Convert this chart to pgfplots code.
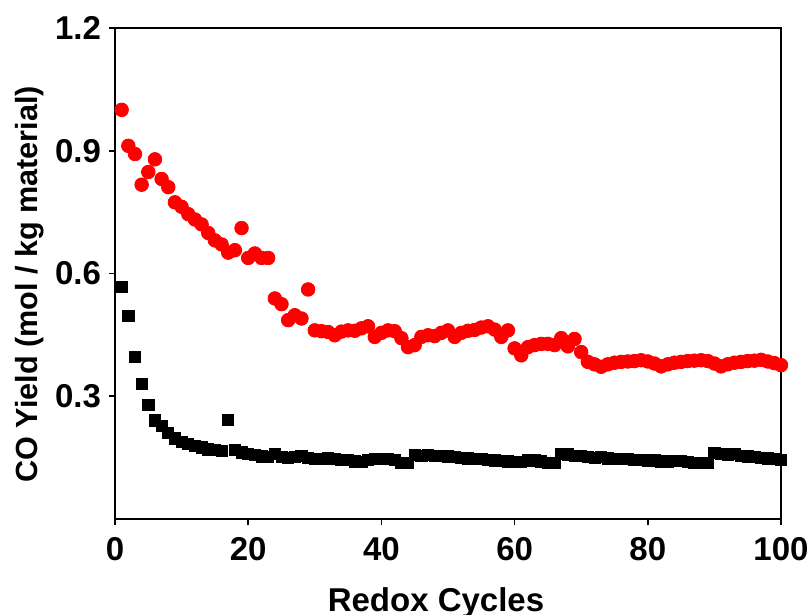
\documentclass[border=0pt]{standalone}
\usepackage{fontspec}
\setmainfont{Liberation Sans}
\usepackage{pgfplots}
\pgfplotsset{compat=1.18}
\begin{document}
\begin{tikzpicture}
\begin{axis}[
  scale only axis,
  width=333pt, height=245.5pt,
  xmin=0, xmax=100, ymin=0, ymax=1.2,
  xtick={0,20,40,60,80,100},
  ytick={0.3,0.6,0.9,1.2},
  yticklabels={0.3,0.6,0.9,1.2},
  xticklabels={0,20,40,60,80,100},
  tick align=outside,
  xtick pos=bottom, ytick pos=left,
  major tick length=3pt,
  axis line style={line width=0.8pt},
  every tick/.style={line width=0.8pt, black},
  ticklabel style={font=\fontsize{16.5}{18}\selectfont\bfseries},
  xticklabel style={yshift=-2.5pt},
  yticklabel style={xshift=-0.5pt},
  xlabel={Redox Cycles},
  ylabel={CO Yield (mol / kg material)},
  xlabel style={font=\fontsize{16.5}{18}\selectfont\bfseries, at={(axis description cs:0.482,-0.17)}, anchor=center},
  ylabel style={font=\fontsize{15.3}{17}\selectfont\bfseries, at={(axis description cs:-0.128,0.478)}, anchor=center},
  clip=false,
]
\addplot[only marks, mark=*, mark size=3.4pt, color=red, mark options={fill=red, draw=red}] coordinates {
(1,1.000)(2,0.912)(3,0.892)(4,0.817)(5,0.848)(6,0.879)(7,0.831)(8,0.811)(9,0.774)(10,0.763)
(11,0.745)(12,0.732)(13,0.720)(14,0.699)(15,0.681)(16,0.671)(17,0.651)(18,0.657)(19,0.711)(20,0.638)
(21,0.649)(22,0.638)(23,0.638)(24,0.539)(25,0.525)(26,0.486)(27,0.498)(28,0.490)(29,0.561)(30,0.461)
(31,0.459)(32,0.457)(33,0.449)(34,0.458)(35,0.461)(36,0.460)(37,0.466)(38,0.471)(39,0.445)(40,0.455)
(41,0.461)(42,0.459)(43,0.442)(44,0.420)(45,0.425)(46,0.445)(47,0.449)(48,0.447)(49,0.455)(50,0.461)
(51,0.445)(52,0.455)(53,0.460)(54,0.462)(55,0.468)(56,0.471)(57,0.463)(58,0.445)(59,0.461)(60,0.417)
(61,0.400)(62,0.420)(63,0.425)(64,0.428)(65,0.428)(66,0.425)(67,0.442)(68,0.422)(69,0.440)(70,0.408)
(71,0.384)(72,0.378)(73,0.372)(74,0.378)(75,0.382)(76,0.384)(77,0.385)(78,0.386)(79,0.388)(80,0.385)
(81,0.380)(82,0.373)(83,0.378)(84,0.382)(85,0.384)(86,0.386)(87,0.387)(88,0.388)(89,0.386)(90,0.380)
(91,0.373)(92,0.378)(93,0.382)(94,0.384)(95,0.386)(96,0.387)(97,0.389)(98,0.385)(99,0.381)(100,0.376)
};
\addplot[only marks, mark=square*, mark size=2.8pt, color=black, mark options={fill=black, draw=black}] coordinates {
(1,0.567)(2,0.496)(3,0.396)(4,0.331)(5,0.278)(6,0.241)(7,0.227)(8,0.210)(9,0.197)(10,0.188)
(11,0.184)(12,0.178)(13,0.175)(14,0.170)(15,0.168)(16,0.167)(17,0.243)(18,0.168)(19,0.163)(20,0.160)
(21,0.157)(22,0.153)(23,0.152)(24,0.159)(25,0.152)(26,0.150)(27,0.152)(28,0.155)(29,0.149)(30,0.147)
(31,0.146)(32,0.148)(33,0.146)(34,0.145)(35,0.144)(36,0.141)(37,0.140)(38,0.144)(39,0.146)(40,0.147)
(41,0.146)(42,0.145)(43,0.137)(44,0.138)(45,0.157)(46,0.155)(47,0.156)(48,0.154)(49,0.155)(50,0.153)
(51,0.152)(52,0.150)(53,0.148)(54,0.147)(55,0.146)(56,0.145)(57,0.143)(58,0.142)(59,0.141)(60,0.139)
(61,0.140)(62,0.143)(63,0.143)(64,0.141)(65,0.137)(66,0.138)(67,0.160)(68,0.158)(69,0.155)(70,0.154)
(71,0.152)(72,0.150)(73,0.151)(74,0.148)(75,0.147)(76,0.147)(77,0.146)(78,0.145)(79,0.144)(80,0.143)
(81,0.143)(82,0.141)(83,0.141)(84,0.142)(85,0.142)(86,0.140)(87,0.137)(88,0.137)(89,0.138)(90,0.162)
(91,0.160)(92,0.158)(93,0.160)(94,0.155)(95,0.153)(96,0.152)(97,0.150)(98,0.148)(99,0.147)(100,0.145)
};
\end{axis}
\pgfresetboundingbox
\path[use as bounding box] (-57.5pt,-48pt) rectangle (346.5pt,259.5pt);
\end{tikzpicture}
\end{document}
